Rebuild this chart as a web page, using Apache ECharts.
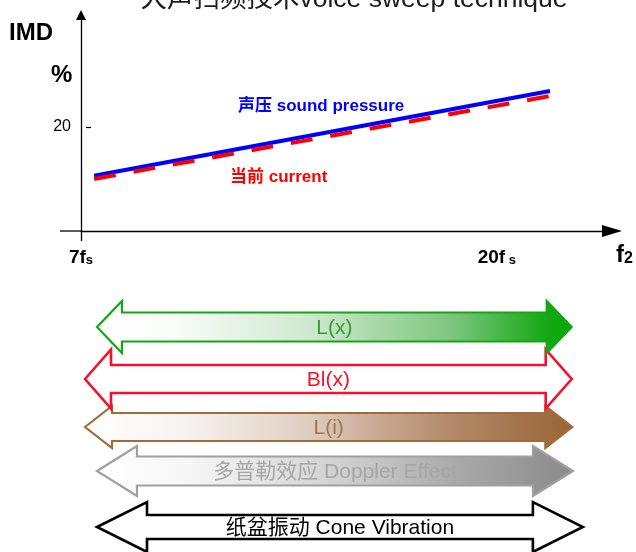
<!DOCTYPE html>
<html>
<head>
<meta charset="utf-8">
<script src="https://cdn.jsdelivr.net/npm/echarts@6/dist/echarts.min.js"></script>
<style>
  html, body { margin: 0; padding: 0; background: #fff; }
  #chart { width: 636px; height: 552px; }
</style>
</head>
<body>
<div id="chart"></div>
<script>
// IMD (%) against f2, in multiples of fs
const soundPressure = [[7.41, 10.6], [21.66, 26.9]];
const current = [[7.41, 10.0], [21.72, 26.0]];
const xTickValues = [7, 20];
const yTickValues = [20];

// Frequency span (in fs) over which each mechanism contributes
const mechanisms = ['L(x)', 'Bl(x)', 'L(i)', '多普勒效应 Doppler Effect', '纸盆振动 Cone Vibration'];
const spanStart = [7.5, 7.125, 7.125, 7.5, 7.5];
const spanEnd = [22.34, 22.34, 22.36, 22.38, 22.69];

const FONT = '"Liberation Sans", Arial, "Noto Sans CJK SC", sans-serif';

// Drawing style of each double arrow
const arrowStyles = [
  { stroke: '#14a614', text: '#35a035', head: 25, half: 26, shaft: 14.5, lw: 2.2, dy: 0,
    stops: [[0, '#ffffff'], [0.15, '#fbfdfb'], [0.45, '#cfe8cf'], [0.75, '#7cc57c'], [0.95, '#12a812'], [1, '#0aa60a']] },
  { stroke: '#f5102c', text: '#f5102c', head: 26, half: 29.5, shaft: 14, lw: 2.6, dy: 2, stops: null },
  { stroke: '#a06d3a', text: '#a07656', head: 27, half: 21, shaft: 14, lw: 2.2, dy: 0,
    stops: [[0, '#ffffff'], [0.2, '#f8f4f2'], [0.45, '#e0cfc3'], [0.6, '#caa992'], [0.75, '#b28a6a'], [0.9, '#a2734a'], [1, '#9a6535']] },
  { stroke: '#a0a0a0', text: '#a6a6a6', head: 40, half: 25, shaft: 14.5, lw: 2.2, dy: -6,
    stops: [[0, '#ffffff'], [0.2, '#f6f6f6'], [0.5, '#d2d2d2'], [0.75, '#aaaaaa'], [1, '#8a8a8a']] },
  { stroke: '#000000', text: '#000000', head: 50, half: 25, shaft: 12, lw: 2.6, dy: 0, stops: null }
];

const chart = echarts.init(document.getElementById('chart'), null, { renderer: 'canvas' });

function renderArrow(params, api) {
  const i = params.dataIndex;
  const st = arrowStyles[i];
  const a = api.coord([api.value(0), api.value(2)]);
  const b = api.coord([api.value(1), api.value(2)]);
  const xl = a[0], xr = b[0], cy = a[1] + st.dy;
  const h = st.head;
  const points = [
    [xl, cy], [xl + h, cy - st.half], [xl + h, cy - st.shaft], [xr - h, cy - st.shaft],
    [xr - h, cy - st.half], [xr, cy], [xr - h, cy + st.half], [xr - h, cy + st.shaft],
    [xl + h, cy + st.shaft], [xl + h, cy + st.half]
  ];
  const fill = st.stops
    ? { type: 'linear', x: 0, y: 0, x2: 1, y2: 0,
        colorStops: st.stops.map(s => ({ offset: s[0], color: s[1] })) }
    : '#ffffff';
  return {
    type: 'group',
    children: [
      { type: 'polygon', z2: 20 - i * 2, shape: { points: points },
        style: { fill: fill, stroke: st.stroke, lineWidth: st.lw, lineJoin: 'miter' } },
      { type: 'text', z2: 40,
        style: { text: mechanisms[i], x: (xl + xr) / 2, y: cy + 1, align: 'center', verticalAlign: 'middle',
                 font: '21px ' + FONT, fill: st.text } }
    ]
  };
}

const option = {
  backgroundColor: '#ffffff',
  animation: false,
  grid: [
    { left: 81, right: 24, top: 15, bottom: 321 },
    { left: 81, right: 24, top: 302, bottom: 0 }
  ],
  xAxis: [
    {
      type: 'value', gridIndex: 0, min: 7, max: 23.6,
      splitLine: { show: false },
      axisLine: { show: true, symbol: ['none', 'triangle'], symbolSize: [12, 20],
                  lineStyle: { color: '#000', width: 1.3 } },
      axisTick: { show: true, customValues: [xTickValues[0]], length: 10, lineStyle: { color: '#000', width: 1.3 } },
      axisLabel: {
        customValues: xTickValues, margin: 14, color: '#000',
        formatter: v => v === 7 ? '{m|7f}{s|s}' : '{m|' + v + 'f}{s| s}',
        rich: {
          m: { fontFamily: FONT, fontWeight: 'bold', fontSize: 19, verticalAlign: 'bottom', lineHeight: 22 },
          s: { fontFamily: FONT, fontWeight: 'bold', fontSize: 13, verticalAlign: 'bottom', lineHeight: 22, padding: [6, 0, 0, 0] }
        }
      }
    },
    { type: 'value', gridIndex: 1, min: 7, max: 23.6, show: false }
  ],
  yAxis: [
    {
      type: 'value', gridIndex: 0, min: 0, max: 41.5,
      splitLine: { show: false },
      axisLine: { show: true, symbol: ['none', 'triangle'], symbolSize: [10, 10],
                  lineStyle: { color: '#000', width: 1.3 } },
      axisTick: { show: true, inside: true, customValues: yTickValues, length: 10,
                  lineStyle: { color: '#000', width: 1.2, type: [5, 5], dashOffset: 5 } },
      axisLabel: { customValues: yTickValues, margin: 10, color: '#000', fontFamily: FONT, fontSize: 16 }
    },
    { type: 'category', gridIndex: 1, data: mechanisms, inverse: true, show: false }
  ],
  series: [
    {
      name: '声压 sound pressure', type: 'line', xAxisIndex: 0, yAxisIndex: 0,
      data: soundPressure, symbol: 'none', z: 3,
      lineStyle: { color: '#0000ff', width: 4 }
    },
    {
      name: '当前 current', type: 'line', xAxisIndex: 0, yAxisIndex: 0,
      data: current, symbol: 'none', z: 4,
      lineStyle: { color: '#ff0000', width: 4, type: [22, 18] }
    },
    {
      type: 'custom', xAxisIndex: 1, yAxisIndex: 1,
      data: mechanisms.map((m, i) => [spanStart[i], spanEnd[i], i]),
      encode: { x: [0, 1], y: 2 },
      renderItem: renderArrow
    }
  ],
  graphic: [
    { type: 'text', x: 354, y: 13, z: 10,
      style: { text: '大声扫频技术voice sweep technique', font: '26.5px ' + FONT, fill: '#1c1c1c',
               align: 'center', verticalAlign: 'bottom',
               shadowColor: 'rgba(0,0,0,0.35)', shadowBlur: 2, shadowOffsetX: 1, shadowOffsetY: 1 } },
    { type: 'text', x: 9, y: 33,
      style: { text: 'IMD', font: 'bold 24px ' + FONT, fill: '#000', verticalAlign: 'middle' } },
    { type: 'text', x: 51, y: 75,
      style: { text: '%', font: 'bold 24px ' + FONT, fill: '#000', verticalAlign: 'middle' } },
    { type: 'text', x: 238, y: 106,
      style: { text: '声压 sound pressure', font: 'bold 17px ' + FONT, fill: '#0000ff', verticalAlign: 'middle' } },
    { type: 'text', x: 230, y: 177,
      style: { text: '当前 current', font: 'bold 17px ' + FONT, fill: '#ff0000', verticalAlign: 'middle' } },
    { type: 'text', x: 616, y: 254,
      style: { text: '{f|f}{n|2}', verticalAlign: 'middle',
               rich: { f: { font: 'bold 24px ' + FONT, fill: '#000', verticalAlign: 'bottom', lineHeight: 26 },
                       n: { font: 'bold 16px ' + FONT, fill: '#000', verticalAlign: 'bottom', lineHeight: 26, padding: [12, 0, 0, 0] } } } }
  ]
};

chart.setOption(option);

// short stretch of the f2 axis to the left of the IMD axis
const origin = chart.convertToPixel({ xAxisIndex: 0, yAxisIndex: 0 }, [xTickValues[0], 0]);
chart.setOption({
  graphic: option.graphic.concat([
    { type: 'line', shape: { x1: origin[0] - 21, y1: origin[1], x2: origin[0], y2: origin[1] },
      style: { stroke: '#000', lineWidth: 1.3 } }
  ])
});
</script>
</body>
</html>
